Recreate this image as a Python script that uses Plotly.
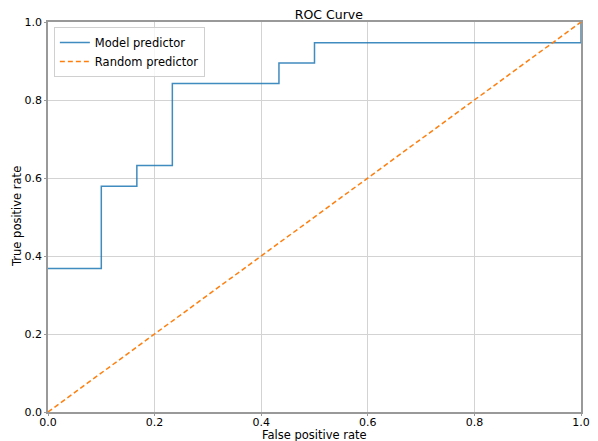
import plotly.graph_objects as go

# ROC curve operating points (false positive rate, true positive rate)
fpr = [0.0, 0.1, 0.1667, 0.2333, 0.4333, 0.5, 1.0]
tpr = [0.368, 0.579, 0.632, 0.842, 0.895, 0.947, 1.0]

# Diagonal of a random classifier
rand_x = [0.0, 1.0]
rand_y = [0.0, 1.0]

tick_vals = [0.0, 0.2, 0.4, 0.6, 0.8, 1.0]
tick_text = ["0.0", "0.2", "0.4", "0.6", "0.8", "1.0"]

font_family = "DejaVu Sans"

fig = go.Figure()
fig.add_trace(go.Scatter(
    x=fpr, y=tpr, mode="lines", name="Model predictor",
    line=dict(color="#1f77b4", width=1.5, shape="hv"), opacity=0.85,
))
fig.add_trace(go.Scatter(
    x=rand_x, y=rand_y, mode="lines", name="Random predictor",
    line=dict(color="#ff7f0e", width=1.5, dash="5px,3px"),
))

axis_common = dict(
    range=[0, 1], tickvals=tick_vals, ticktext=tick_text,
    showgrid=True, gridcolor="#d3d3d3", gridwidth=1,
    showline=True, linecolor="#999999", linewidth=1.5, mirror=True,
    zeroline=False, ticks="outside", ticklen=2, tickcolor="#999999",
    tickfont=dict(family=font_family, size=11, color="black"),
    automargin=False,
)

fig.update_layout(
    width=598, height=441,
    margin=dict(l=48, r=17, t=22, b=29, autoexpand=False),
    paper_bgcolor="white", plot_bgcolor="white",
    font=dict(family=font_family, size=11.5, color="black"),
    title=dict(text="ROC Curve", x=0.527, xref="paper", xanchor="center",
               y=1, yref="paper", yanchor="bottom", pad=dict(b=3),
               font=dict(size=12.5)),
    xaxis=dict(axis_common, ticklabelstandoff=-3),
    yaxis=axis_common,
    legend=dict(x=0.011, y=0.987, xanchor="left", yanchor="top",
                bgcolor="rgba(255,255,255,0.8)", bordercolor="#d0d0d0",
                borderwidth=1, font=dict(size=11.5), tracegroupgap=0,
                itemwidth=30),
    showlegend=True,
    annotations=[
        dict(text="False positive rate", xref="paper", yref="paper",
             x=0.5, y=0, xanchor="center", yanchor="middle",
             yshift=-22.5, showarrow=False, font=dict(size=11.5)),
        dict(text="True positive rate", xref="paper", yref="paper",
             x=0, y=0.5, xanchor="center", yanchor="middle",
             xshift=-31, textangle=-90, showarrow=False,
             font=dict(size=11.5)),
    ],
)

fig.write_html("out.html")
